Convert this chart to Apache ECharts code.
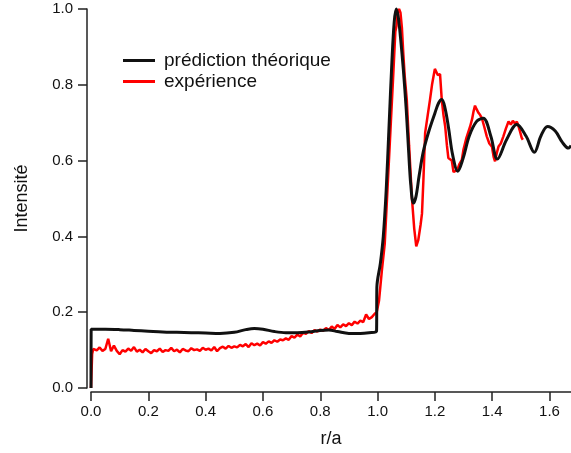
<!DOCTYPE html>
<html>
<head>
<meta charset="utf-8">
<script src="https://cdn.jsdelivr.net/npm/echarts@6/dist/echarts.min.js"></script>
<style>
  html, body { margin: 0; padding: 0; background: #fff; }
  #chart { width: 571px; height: 453px; }
</style>
</head>
<body>
<div id="chart"></div>
<script>
// courbe théorique [r/a, intensité]
var theoryPoints = [
  [0, 0], [0.0005, 0.155], [0.05, 0.155], [0.1, 0.154], [0.15, 0.152], [0.2, 0.15],
  [0.25, 0.148], [0.3, 0.147], [0.35, 0.146], [0.4, 0.145], [0.45, 0.144], [0.5, 0.147],
  [0.54, 0.154], [0.57, 0.157], [0.6, 0.155], [0.64, 0.149], [0.68, 0.146], [0.72, 0.146],
  [0.76, 0.148], [0.8, 0.152], [0.83, 0.153], [0.86, 0.149], [0.9, 0.144], [0.94, 0.144],
  [0.97, 0.146], [0.9965, 0.15], [0.9975, 0.265], [1.01, 0.33], [1.02, 0.4], [1.03, 0.52],
  [1.04, 0.69], [1.05, 0.86], [1.058, 0.965], [1.065, 1.0], [1.072, 0.98], [1.08, 0.925],
  [1.09, 0.84], [1.1, 0.735], [1.108, 0.63], [1.116, 0.535], [1.125, 0.488], [1.134, 0.505],
  [1.145, 0.56], [1.16, 0.625], [1.18, 0.68], [1.2, 0.725], [1.213, 0.752], [1.224, 0.761],
  [1.235, 0.74], [1.248, 0.685], [1.262, 0.615], [1.28, 0.572], [1.298, 0.605], [1.32, 0.665],
  [1.345, 0.703], [1.369, 0.712], [1.395, 0.665], [1.418, 0.604], [1.45, 0.655], [1.486, 0.695],
  [1.518, 0.665], [1.547, 0.622], [1.57, 0.665], [1.593, 0.69], [1.62, 0.678], [1.645, 0.648],
  [1.666, 0.633], [1.675, 0.64]
];

// mesure expérimentale [r/a, intensité]
var experimentPoints = [
  [0, 0], [0.004, 0.09], [0.008, 0.103], [0.01, 0.104], [0.02, 0.099], [0.03, 0.107],
  [0.04, 0.098], [0.05, 0.103], [0.06, 0.130], [0.07, 0.097], [0.08, 0.112], [0.09, 0.098],
  [0.10, 0.089], [0.11, 0.100], [0.12, 0.096], [0.13, 0.104], [0.14, 0.098], [0.15, 0.108],
  [0.16, 0.096], [0.17, 0.101], [0.18, 0.094], [0.19, 0.103], [0.20, 0.097], [0.21, 0.092],
  [0.22, 0.100], [0.23, 0.097], [0.24, 0.104], [0.25, 0.095], [0.26, 0.100], [0.27, 0.098],
  [0.28, 0.106], [0.29, 0.097], [0.30, 0.101], [0.31, 0.094], [0.32, 0.103], [0.33, 0.099],
  [0.34, 0.097], [0.35, 0.105], [0.36, 0.100], [0.37, 0.102], [0.38, 0.098], [0.39, 0.106],
  [0.40, 0.101], [0.41, 0.104], [0.42, 0.099], [0.43, 0.108], [0.44, 0.097], [0.45, 0.105],
  [0.46, 0.109], [0.47, 0.104], [0.48, 0.111], [0.49, 0.106], [0.50, 0.110], [0.51, 0.107],
  [0.52, 0.114], [0.53, 0.110], [0.54, 0.116], [0.55, 0.108], [0.56, 0.118], [0.57, 0.113],
  [0.58, 0.117], [0.59, 0.112], [0.60, 0.121], [0.61, 0.117], [0.62, 0.123], [0.63, 0.119],
  [0.64, 0.126], [0.65, 0.122], [0.66, 0.128], [0.67, 0.126], [0.68, 0.131], [0.69, 0.127],
  [0.70, 0.137], [0.71, 0.133], [0.72, 0.141], [0.73, 0.136], [0.74, 0.146], [0.75, 0.143],
  [0.76, 0.150], [0.77, 0.145], [0.78, 0.153], [0.79, 0.149], [0.80, 0.154], [0.81, 0.151],
  [0.82, 0.158], [0.83, 0.153], [0.84, 0.162], [0.85, 0.156], [0.86, 0.166], [0.87, 0.160],
  [0.88, 0.168], [0.89, 0.163], [0.90, 0.171], [0.91, 0.166], [0.92, 0.175], [0.93, 0.170],
  [0.94, 0.178], [0.95, 0.174], [0.96, 0.194], [0.97, 0.182], [0.98, 0.187], [0.99, 0.196],
  [0.997, 0.20], [1.005, 0.23], [1.015, 0.31], [1.025, 0.38], [1.035, 0.53], [1.045, 0.68],
  [1.055, 0.83], [1.062, 0.94], [1.066, 0.955], [1.07, 0.99], [1.075, 1.0], [1.08, 0.99],
  [1.085, 0.95], [1.09, 0.88], [1.095, 0.82], [1.102, 0.76], [1.11, 0.64], [1.12, 0.50],
  [1.128, 0.42], [1.135, 0.374], [1.142, 0.39], [1.15, 0.43], [1.155, 0.46], [1.16, 0.55],
  [1.166, 0.673], [1.175, 0.72], [1.183, 0.761], [1.19, 0.80], [1.197, 0.83], [1.2, 0.842],
  [1.205, 0.838], [1.21, 0.826], [1.218, 0.828], [1.224, 0.761], [1.23, 0.72], [1.236, 0.69],
  [1.242, 0.64], [1.247, 0.607], [1.253, 0.602], [1.259, 0.6], [1.265, 0.57], [1.271, 0.567],
  [1.278, 0.575], [1.285, 0.59], [1.294, 0.602], [1.3, 0.63], [1.31, 0.66], [1.323, 0.69],
  [1.33, 0.71], [1.335, 0.73], [1.34, 0.745], [1.346, 0.735], [1.352, 0.726], [1.358, 0.72],
  [1.364, 0.712], [1.372, 0.69], [1.381, 0.664], [1.39, 0.645], [1.399, 0.637], [1.405, 0.61],
  [1.41, 0.598], [1.416, 0.62], [1.422, 0.637], [1.43, 0.645], [1.439, 0.664], [1.448, 0.685],
  [1.457, 0.703], [1.465, 0.695], [1.472, 0.705], [1.48, 0.697], [1.486, 0.703], [1.492, 0.69],
  [1.497, 0.677], [1.503, 0.66], [1.507, 0.655]
];

var seriesNames = ['prédiction théorique', 'expérience'];
var xTicks = [0, 0.2, 0.4, 0.6, 0.8, 1.0, 1.2, 1.4, 1.6];
var yTicks = [0, 0.2, 0.4, 0.6, 0.8, 1.0];

var font = 'Liberation Sans, Arial, sans-serif';
var axisColor = '#222';

var myChart = echarts.init(document.getElementById('chart'));
var option = {
  animation: false,
  grid: {
    left: 91,
    right: 0,
    top: 9,
    bottom: 65
  },
  legend: {
    left: 118,
    top: 46,
    orient: 'vertical',
    icon: 'rect',
    itemWidth: 32,
    itemHeight: 3,
    itemGap: 2,
    data: seriesNames,
    textStyle: {
      color: '#111',
      fontFamily: font,
      fontSize: 19,
      lineHeight: 19,
      padding: [0, 0, 0, 4]
    }
  },
  xAxis: {
    type: 'value',
    min: xTicks[0],
    max: 1.675,
    interval: 0.2,
    offset: 4,
    name: 'r/a',
    nameLocation: 'middle',
    nameGap: 38,
    nameTextStyle: { color: '#111', fontFamily: font, fontSize: 18 },
    splitLine: { show: false },
    axisLine: { onZero: false, lineStyle: { color: axisColor, width: 1.5 } },
    axisTick: { length: 9, lineStyle: { color: axisColor, width: 1.5 } },
    axisLabel: {
      color: '#111', fontFamily: font, fontSize: 15, margin: 12,
      showMaxLabel: false,
      formatter: function (v) { return v.toFixed(1); }
    }
  },
  yAxis: {
    type: 'value',
    min: yTicks[0],
    max: yTicks[yTicks.length - 1],
    interval: 0.2,
    offset: 4,
    name: 'Intensité',
    nameLocation: 'middle',
    nameGap: 56,
    nameTextStyle: { color: '#111', fontFamily: font, fontSize: 18 },
    splitLine: { show: false },
    axisLine: { onZero: false, lineStyle: { color: axisColor, width: 1.5 } },
    axisTick: { length: 9, lineStyle: { color: axisColor, width: 1.5 } },
    axisLabel: {
      color: '#111', fontFamily: font, fontSize: 15, margin: 14,
      formatter: function (v) { return v.toFixed(1); }
    }
  },
  series: [
    {
      name: seriesNames[1],
      type: 'line',
      data: experimentPoints,
      symbol: 'none',
      clip: false,
      lineStyle: { color: '#ff0000', width: 2.5 },
      itemStyle: { color: '#ff0000' },
      z: 2
    },
    {
      name: seriesNames[0],
      type: 'line',
      data: theoryPoints,
      symbol: 'none',
      smooth: 0.35,
      clip: false,
      lineStyle: { color: '#111111', width: 3 },
      itemStyle: { color: '#111111' },
      z: 3
    }
  ]
};
myChart.setOption(option);
</script>
</body>
</html>
